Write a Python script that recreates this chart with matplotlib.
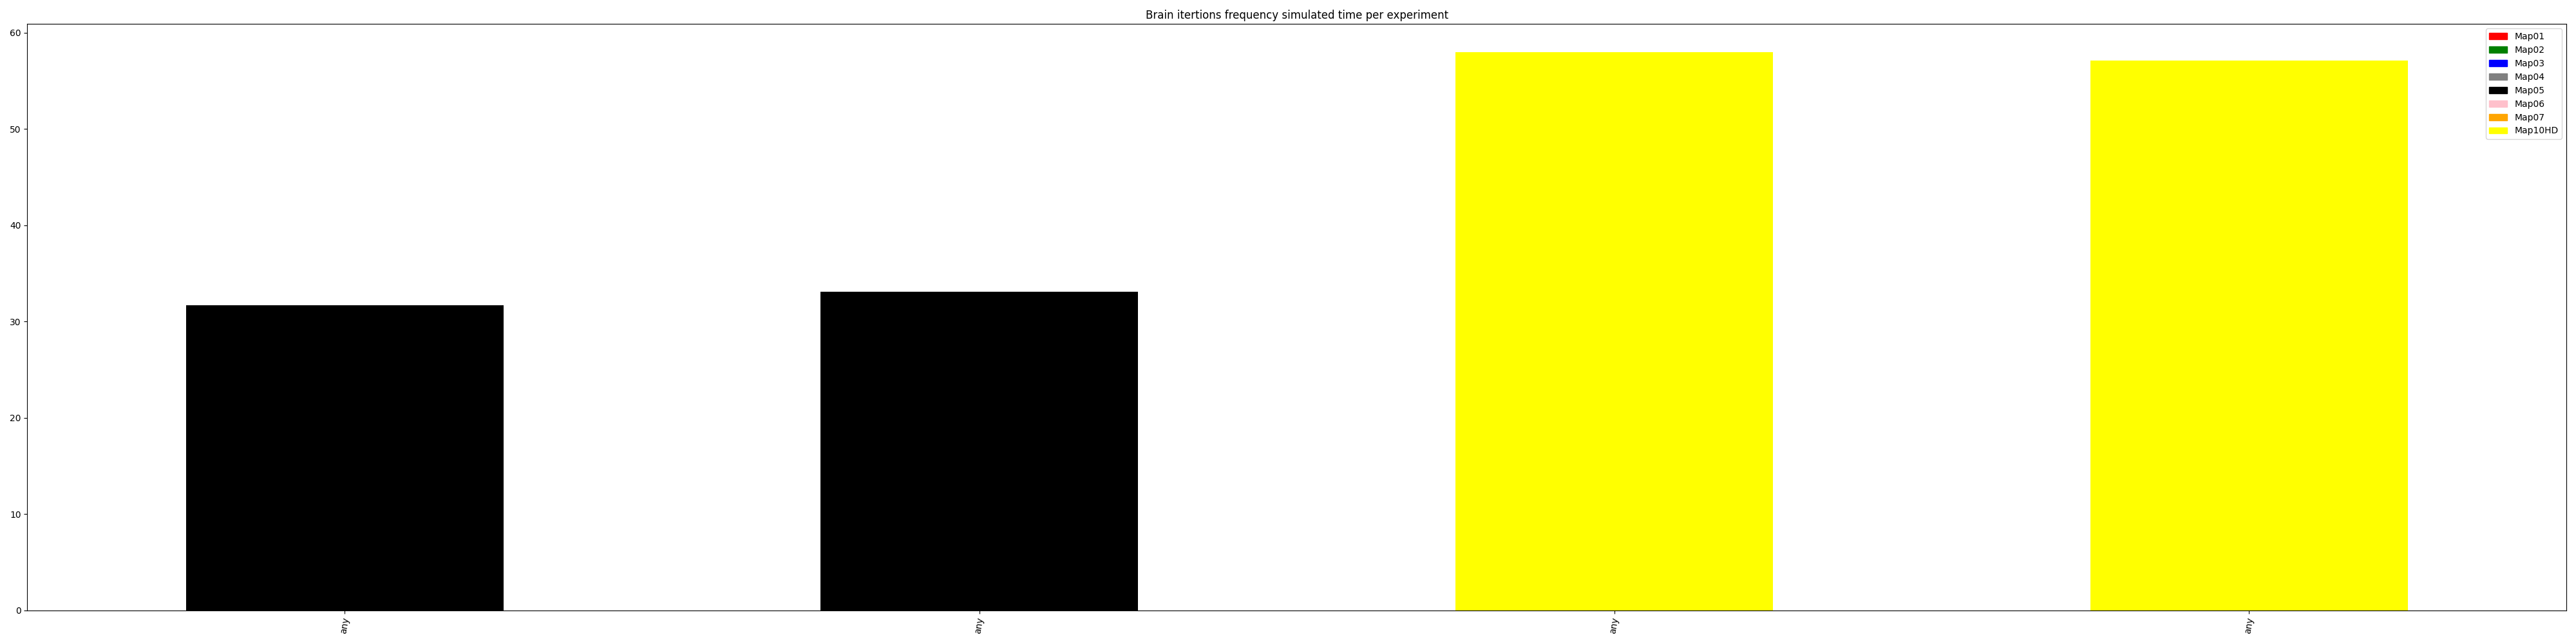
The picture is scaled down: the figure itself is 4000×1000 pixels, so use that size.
import matplotlib
matplotlib.use('Agg')
import matplotlib.pyplot as plt
import matplotlib.patches as mpatches

# bar values
labels = ['any', 'any', 'any', 'any']
values = [31.7, 33.1, 58.0, 57.1]
bar_maps = ['Map05', 'Map05', 'Map10HD', 'Map10HD']

map_names = ['Map01', 'Map02', 'Map03', 'Map04', 'Map05', 'Map06', 'Map07', 'Map10HD']
map_colors = ['red', 'green', 'blue', 'grey', 'black', 'pink', 'orange', 'yellow']

if __name__ == '__main__':
    color_of = dict(zip(map_names, map_colors))
    fig, ax = plt.subplots(figsize=(40, 10), dpi=100)

    x = range(len(values))
    ax.bar(x, values, width=0.5, color=[color_of[m] for m in bar_maps])
    ax.set_xticks(list(x))
    ax.set_xticklabels(labels, rotation=80)
    ax.set_xlim(-0.5, len(values) - 0.5)
    ax.set_title('Brain itertions frequency simulated time per experiment')

    handles = [mpatches.Patch(color=c, label=n) for n, c in zip(map_names, map_colors)]
    ax.legend(handles=handles, loc='upper right')

    fig.tight_layout()
    fig.savefig('out.png')
